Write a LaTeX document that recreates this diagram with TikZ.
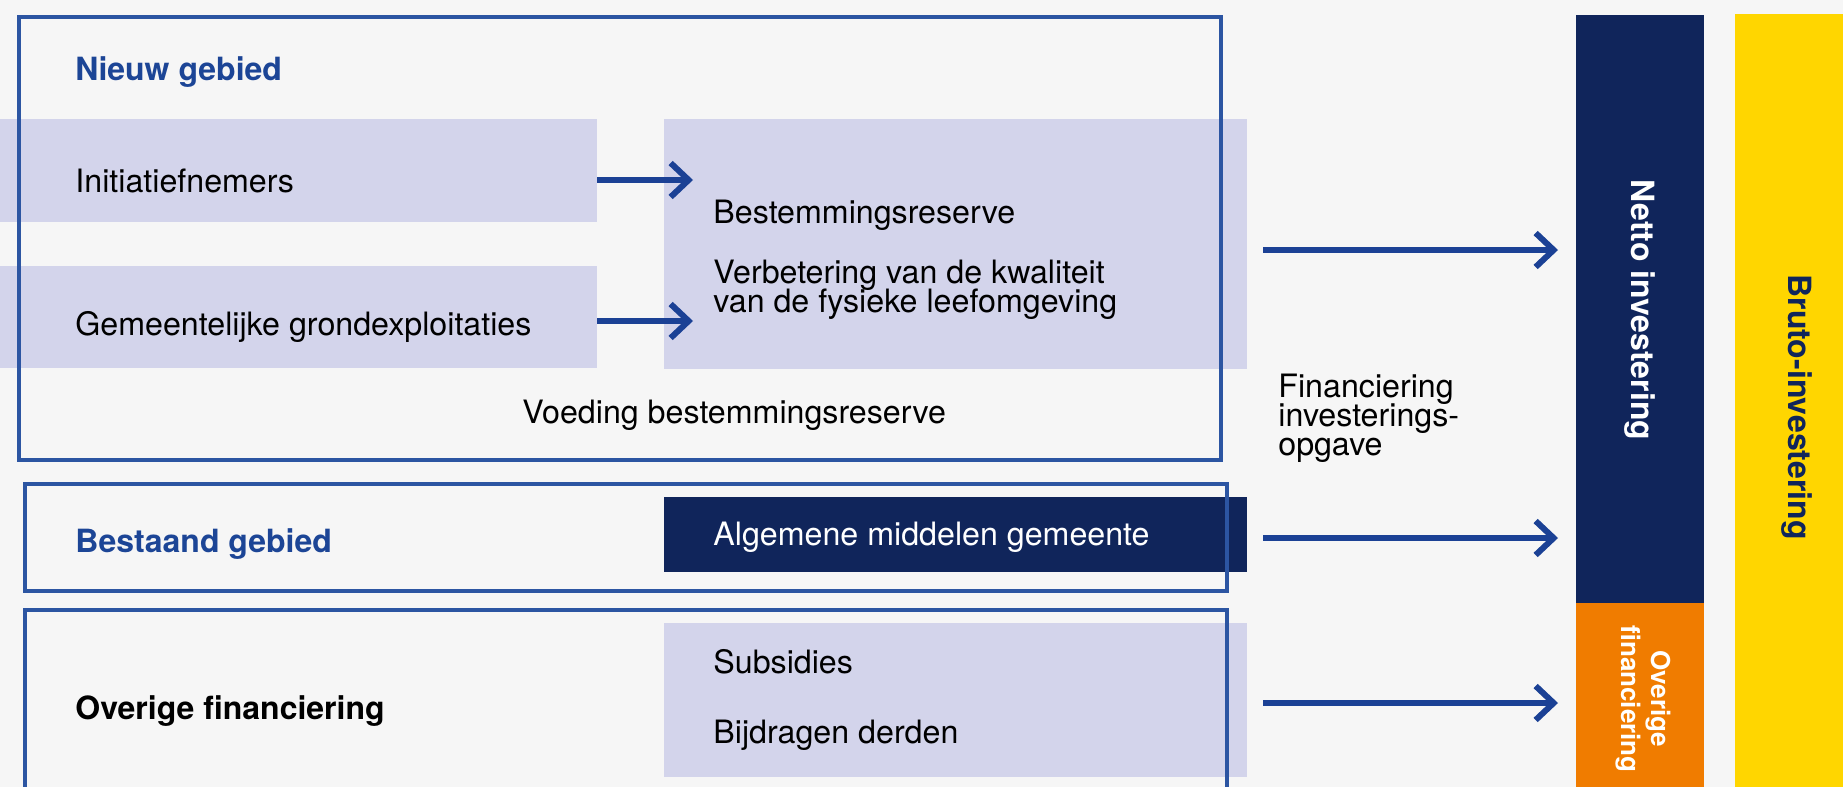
\documentclass[tikz,border=0pt]{standalone}
\usepackage{fontspec}
\setmainfont{TeX Gyre Heros}
\usetikzlibrary{arrows.meta,fit}
\definecolor{bgc}{HTML}{F6F6F6}
\definecolor{lavc}{HTML}{D3D4EB}
\definecolor{navyc}{HTML}{10255B}
\definecolor{linec}{HTML}{2C55A2}
\definecolor{arrowc}{HTML}{1B4195}
\definecolor{titlec}{HTML}{1C4596}
\definecolor{orangec}{HTML}{F07C00}
\definecolor{yellowc}{HTML}{FFD600}
\begin{document}
\begin{tikzpicture}[x=0.5pt,y=-0.5pt,
  boxfill/.style={inner sep=0pt, outer sep=0pt, draw=none},
  lav/.style={boxfill, fill=lavc},
  frame/.style={draw=linec, line width=1.6pt},
  txt/.style={anchor=base west, inner sep=0pt, font=\fontsize{16.1pt}{14.5pt}\selectfont},
  ttl/.style={txt, font=\fontsize{16pt}{14.5pt}\selectfont\bfseries},
  arr/.style={draw=arrowc, line width=3pt, -{Straight Barb[length=9pt,width=17pt]}},
  vtxt/.style={rotate=-90, inner sep=0pt, font=\fontsize{16pt}{15pt}\selectfont\bfseries}
]
\useasboundingbox (0,0) rectangle (1843,787);
\fill[bgc] (0,0) rectangle (1843,787);

% lavender / navy content boxes
\node[lav, fit={(0,119) (597,222)}] (init) {};
\node[lav, fit={(0,266) (597,368)}] (gem) {};
\node[lav, fit={(664,119) (1247,369)}] (bres) {};
\node[boxfill, fill=navyc, fit={(664,497) (1247,572)}] (alg) {};
\node[lav, fit={(664,623) (1247,777)}] (subs) {};

% right columns
\node[boxfill, fill=navyc, fit={(1576,15) (1704,603)}] (netto) {};
\node[boxfill, fill=orangec, fit={(1576,603) (1704,787)}] (overig) {};
\node[boxfill, fill=yellowc, fit={(1735,14) (1843,787)}] (bruto) {};

% frames
\draw[frame] (19,17) rectangle (1221,460);
\draw[frame] (25,484) rectangle (1227,591);
\draw[frame] (1227,800) -- (1227,610) -- (25,610) -- (25,800);

% texts
\node[ttl, text=titlec] (tnieuw) at (75,80) {Nieuw gebied};
\node[txt] (tinit) at (75,192) {Initiatiefnemers};
\node[txt] (tgem) at (75,335) {Gemeentelijke grondexploitaties};
\node[txt] (tbres) at (713,223) {Bestemmingsreserve};
\node[txt] (tverb1) at (713,283) {Verbetering van de kwaliteit};
\node[txt] (tverb2) at (713,312) {van de fysieke leefomgeving};
\node[txt] (tvoed) at (522,423) {Voeding bestemmingsreserve};
\node[ttl, text=titlec] (tbest) at (75,552) {Bestaand gebied};
\node[txt, text=white] (talg) at (713,545) {Algemene middelen gemeente};
\node[ttl] (tover) at (75,719) {Overige financiering};
\node[txt] (tsubs) at (713,673) {Subsidies};
\node[txt] (tbijd) at (713,743) {Bijdragen derden};
\node[txt] (tfin1) at (1278,397) {Financiering};
\node[txt] (tfin2) at (1278,426) {investerings-};
\node[txt] (tfin3) at (1278,455) {opgave};

\node[vtxt, text=white] (tnetto) at (1640,310) {Netto investering};
\node[vtxt, text=navyc] (tbruto) at (1797,407) {Bruto-investering};
\node[vtxt, text=white, align=center, font=\fontsize{13pt}{15pt}\selectfont\bfseries] (tovr) at (1643,699) {Overige\\financiering};

% arrows
\coordinate (a1) at (693,180);
\coordinate (a2) at (693,321);
\draw[arr] (init.east |- a1) -- (a1);
\draw[arr] (gem.east |- a2) -- (a2);

\coordinate (b1) at (1263,250);
\coordinate (b2) at (1263,538);
\coordinate (b3) at (1263,703);
\draw[arr, shorten >=9pt] (b1) -- (netto.west |- b1);
\draw[arr, shorten >=9pt] (b2) -- (netto.west |- b2);
\draw[arr, shorten >=9pt] (b3) -- (overig.west |- b3);
\end{tikzpicture}
\end{document}
